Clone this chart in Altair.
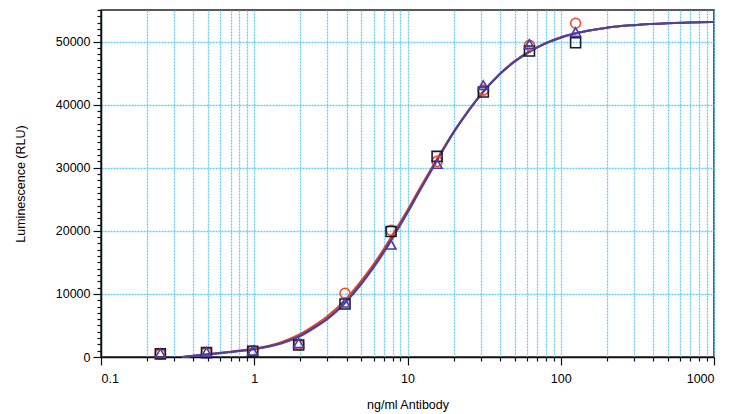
import altair as alt
import pandas as pd

# ---- measured points (ng/ml Antibody vs RLU) ----
conc = [0.244, 0.488, 0.977, 1.95, 3.91, 7.81, 15.6, 31.25, 62.5, 125]
resp_circle = [500, 700, 1000, 2000, 10100, 20100, 31000, 42300, 49400, 52900]
resp_square = [500, 700, 900, 1900, 8400, 19900, 31800, 42000, 48500, 49800]
resp_triangle = [600, 800, 1000, 2200, 8600, 17800, 30600, 43100, 49600, 51500]

# ---- fitted curves ----
curve_x = [0.34, 0.4, 0.5, 0.6, 0.7, 0.8, 1, 1.25, 1.5, 2, 2.5, 3, 4, 5, 6, 7, 8,
           10, 12, 15, 20, 25, 30, 40, 50, 60, 80, 100, 150, 200, 300, 500, 700, 1000]
curve_purple = [0, 180, 420, 620, 800, 960, 1270, 1700, 2200, 3400, 4800, 6100, 8900,
                11700, 14300, 16700, 19000, 23000, 26400, 30500, 35600, 39000, 41500,
                44800, 46800, 48100, 49700, 50600, 51700, 52200, 52600, 52900, 53000, 53100]
curve_red = [0, 200, 450, 660, 850, 1020, 1350, 1800, 2350, 3650, 5100, 6450, 9300,
             12100, 14700, 17100, 19400, 23300, 26700, 30700, 35700, 39100, 41600,
             44900, 46900, 48200, 49800, 50700, 51700, 52200, 52600, 52900, 53000, 53100]
curve_blue = [0, 170, 400, 600, 780, 940, 1240, 1660, 2150, 3320, 4700, 6000, 8800,
              11550, 14150, 16550, 18850, 22850, 26300, 30450, 35600, 39000, 41550,
              44850, 46850, 48150, 49750, 50650, 51700, 52200, 52600, 52900, 53000, 53100]

# ---- axis tick values ----
x_ticks = [0.1, 0.2, 0.3, 0.4, 0.5, 0.6, 0.7, 0.8, 0.9,
           1, 2, 3, 4, 5, 6, 7, 8, 9,
           10, 20, 30, 40, 50, 60, 70, 80, 90,
           100, 200, 300, 400, 500, 600, 700, 800, 900, 1000]
x_major = [0.1, 1, 10, 100, 1000]
y_ticks = list(range(0, 55001, 1000))

pts = pd.DataFrame({"x": conc, "c": resp_circle, "s": resp_square, "t": resp_triangle})
crv = pd.DataFrame({"x": curve_x, "r": curve_red, "b": curve_blue, "p": curve_purple})

grid_color = "#66ccee"
major_test = "indexof([0.1, 1, 10, 100, 1000], datum.value) >= 0"

x_axis = alt.Axis(
    values=x_ticks, format="~g",
    labelExpr=f"{major_test} ? datum.label : ''",
    labelOverlap=False, labelBound=False,
    tickSize={"condition": {"test": major_test, "value": 8}, "value": 4},
    grid=True, gridColor=grid_color, gridDash=[2, 1], gridWidth=1.3,
    labelPadding=7, titlePadding=14,
)
y_axis = alt.Axis(
    values=y_ticks, format="d",
    labelExpr="datum.value % 10000 == 0 ? datum.label : ''",
    labelOverlap=False,
    tickSize={"condition": {"test": "datum.value % 10000 == 0", "value": 8}, "value": 4},
    grid=True, gridColor=grid_color, gridDash=[2, 1], gridWidth=1.3,
    gridOpacity={"condition": {"test": "datum.value % 10000 == 0 && datum.value > 0", "value": 1}, "value": 0},
    labelPadding=3, titlePadding=28,
)

xs = alt.Scale(type="log", domain=[0.1, 1000], nice=False)
ys = alt.Scale(domain=[0, 55000], nice=False)

X = alt.X("x:Q", scale=xs, axis=x_axis, title="ng/ml Antibody")


def ych(col):
    return alt.Y(f"{col}:Q", scale=ys, axis=y_axis, title="Luminescence (RLU)")


base_c = alt.Chart(crv)
lines = [
    base_c.mark_line(color="#e8452a", strokeWidth=2, interpolate="monotone").encode(x=X, y=ych("r")),
    base_c.mark_line(color="#3a55d0", strokeWidth=2, interpolate="monotone").encode(x=X, y=ych("b")),
    base_c.mark_line(color="#55408f", strokeWidth=2, interpolate="monotone").encode(x=X, y=ych("p")),
]
base_p = alt.Chart(pts)
points = [
    base_p.mark_point(shape="circle", filled=False, color="#f04a28", size=100, strokeWidth=1.6, opacity=1).encode(x=X, y=ych("c")),
    base_p.mark_point(shape="square", filled=False, color="#1a1a28", size=100, strokeWidth=1.6, opacity=1).encode(x=X, y=ych("s")),
    base_p.mark_point(shape="triangle-up", filled=False, color="#4a3aa8", size=100, strokeWidth=1.6, opacity=1).encode(x=X, y=ych("t")),
]

chart = alt.layer(*lines, *points).properties(
    width=613, height=347,
    autosize=alt.AutoSizeParams(type="none"),
    padding={"left": 93, "top": 2, "right": 5, "bottom": 56},
).configure_axis(
    labelFont="Liberation Sans", titleFont="Liberation Sans",
    labelFontSize=12.5, titleFontSize=12.5, titleFontWeight="normal",
    labelColor="black", titleColor="black",
    domainColor="#111111", domainWidth=1.5, tickColor="#111111", tickWidth=1.2,
).configure_view(stroke="#222222", strokeWidth=1.5)

chart.save("out.html", embed_options={"renderer": "svg", "actions": False})
